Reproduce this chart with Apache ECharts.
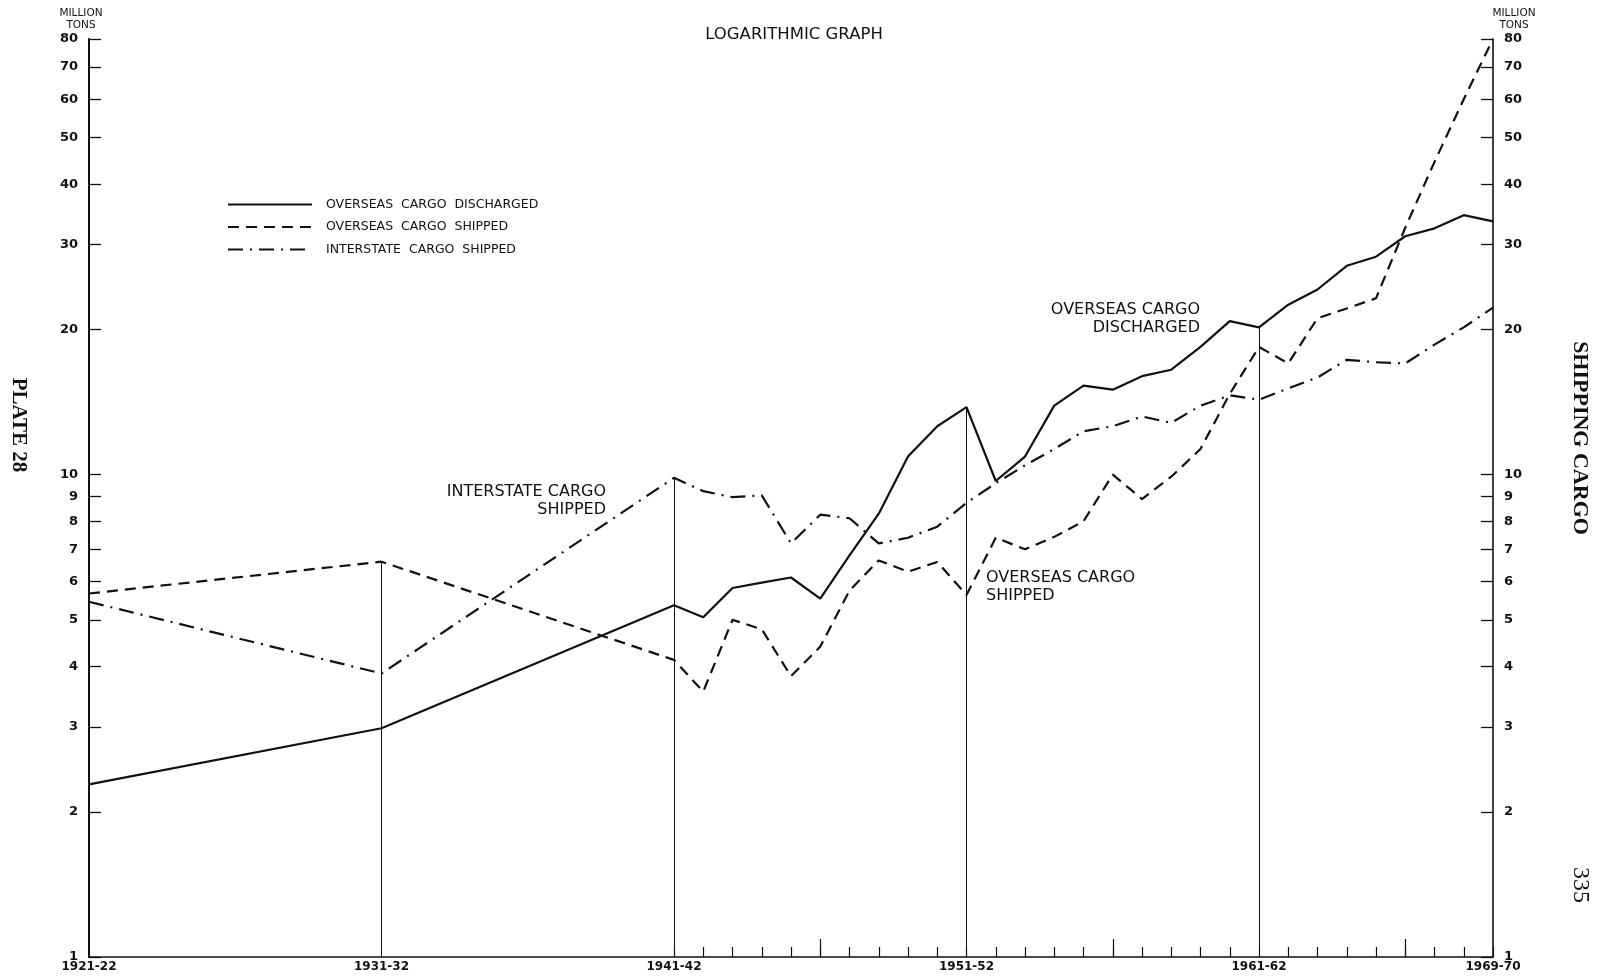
<!DOCTYPE html>
<html>
<head>
<meta charset="utf-8">
<script src="https://cdn.jsdelivr.net/npm/echarts@6/dist/echarts.min.js"></script>
<style>
  html, body { margin: 0; padding: 0; background: #ffffff; }
  #chart { width: 1607px; height: 980px; }
</style>
</head>
<body>
<div id="chart"></div>
<script>
// Financial years (start year of each year, e.g. 1921 = 1921-22)
const years = [1921, 1931, 1941, 1942, 1943, 1944, 1945, 1946, 1947, 1948, 1949, 1950,
  1951, 1952, 1953, 1954, 1955, 1956, 1957, 1958, 1959, 1960,
  1961, 1962, 1963, 1964, 1965, 1966, 1967, 1968, 1969];

// Million tons
const overseasDischarged = [2.28, 2.98, 5.36, 5.06, 5.82, 5.97, 6.12, 5.53, 6.8, 8.3, 10.9, 12.6,
  13.8, 9.7, 10.9, 13.9, 15.3, 15.0, 16.0, 16.5, 18.4, 20.8,
  20.2, 22.5, 24.2, 27.1, 28.3, 31.2, 32.4, 34.5, 33.5];
const overseasShipped = [5.67, 6.6, 4.13, 3.55, 5.0, 4.78, 3.82, 4.4, 5.75, 6.64, 6.29, 6.59,
  5.63, 7.4, 7.0, 7.43, 8.0, 10.0, 8.9, 9.9, 11.3, 14.7,
  18.4, 17.0, 21.1, 22.1, 23.2, 32.5, 44.5, 60, 80];
const interstateShipped = [5.45, 3.87, 9.85, 9.24, 8.98, 9.06, 7.2, 8.26, 8.12, 7.2, 7.4, 7.8,
  8.74, 9.6, 10.45, 11.3, 12.3, 12.6, 13.2, 12.8, 13.9, 14.6,
  14.3, 15.1, 15.9, 17.3, 17.1, 17.0, 18.6, 20.2, 22.2];

const seriesNames = ['OVERSEAS  CARGO  DISCHARGED', 'OVERSEAS  CARGO  SHIPPED', 'INTERSTATE  CARGO  SHIPPED'];

// Axis ticks
const valueTicks = [1, 2, 3, 4, 5, 6, 7, 8, 9, 10, 20, 30, 40, 50, 60, 70, 80];
const yearLabels = [1921, 1931, 1941, 1951, 1961, 1969];
const annualTicks = [1941, 1942, 1943, 1944, 1945, 1946, 1947, 1948, 1949, 1950, 1951, 1952, 1953,
  1954, 1955, 1956, 1957, 1958, 1959, 1960, 1961, 1962, 1963, 1964, 1965, 1966, 1967, 1968, 1969];
const midDecadeTicks = [1946, 1956, 1966];
const guideYears = [1931, 1941, 1951, 1961];

const INK = '#111111';
const FONT = '"DejaVu Sans", "Liberation Sans", sans-serif';

const pairs = (vals) => years.map((y, i) => [y, vals[i]]);

// Vertical guide lines rise from the base to the highest series at that year
const guideLines = guideYears.map((y) => {
  const i = years.indexOf(y);
  const top = Math.max(overseasDischarged[i], overseasShipped[i], interstateShipped[i]);
  return [{ coord: [y, 1] }, { coord: [y, top] }];
});

const yearFormatter = (v) => {
  const y = Math.round(v);
  return y + '-' + String((y + 1) % 100).padStart(2, '0');
};

const valueAxis = (position) => ({
  type: 'log',
  logBase: 10,
  min: 1,
  max: 80,
  position: position,
  axisLine: { show: true, lineStyle: { color: INK, width: position === 'left' ? 2 : 1.6 } },
  axisTick: { show: true, inside: true, length: 12, customValues: valueTicks,
    lineStyle: { color: INK, width: 1.3 } },
  axisLabel: { show: true, customValues: valueTicks, color: INK, fontFamily: FONT,
    fontSize: 13, fontWeight: 'bold', margin: 11, hideOverlap: false },
  minorTick: { show: false },
  splitLine: { show: false }
});

const lineSeries = (name, data, dash) => ({
  name: name,
  type: 'line',
  data: data,
  symbol: 'none',
  showSymbol: false,
  smooth: false,
  lineStyle: { color: INK, width: 2.2, type: dash },
  itemStyle: { color: INK },
  emphasis: { disabled: true },
  z: 3
});

const chart = echarts.init(document.getElementById('chart'), null, { renderer: 'canvas' });

const main = lineSeries(seriesNames[0], pairs(overseasDischarged), 'solid');
main.markLine = {
  silent: true,
  symbol: ['none', 'none'],
  label: { show: false },
  lineStyle: { color: INK, width: 1, type: 'solid' },
  data: guideLines,
  animation: false
};

const unitLabel = (x) => ({
  type: 'text', x: x, y: 7,
  style: { text: 'MILLION\nTONS', fill: INK, font: '10.5px ' + FONT, textAlign: 'center', lineHeight: 12 }
});

chart.setOption({
  animation: false,
  backgroundColor: '#ffffff',
  grid: { left: 89, right: 114, top: 39, bottom: 23, containLabel: false },
  legend: {
    show: true,
    orient: 'vertical',
    left: 227,
    top: 198,
    padding: 0,
    itemWidth: 84,
    itemHeight: 16,
    itemGap: 9.5,
    selectedMode: false,
    itemStyle: { opacity: 0 },
    textStyle: { color: INK, fontFamily: FONT, fontSize: 12.5, padding: [0, 0, 0, 9] },
    data: seriesNames
  },
  xAxis: [
    {
      type: 'value',
      min: 1921,
      max: 1969,
      position: 'bottom',
      axisLine: { show: true, lineStyle: { color: INK, width: 1.6 } },
      axisTick: { show: true, inside: true, length: 10, customValues: annualTicks,
        lineStyle: { color: INK, width: 1.2 } },
      axisLabel: { show: true, customValues: yearLabels, formatter: yearFormatter,
        color: INK, fontFamily: FONT, fontSize: 12, fontWeight: 'bold', margin: 4, hideOverlap: false },
      splitLine: { show: false }
    },
    {
      type: 'value',
      min: 1921,
      max: 1969,
      position: 'bottom',
      axisLine: { show: false },
      axisTick: { show: true, inside: true, length: 18, customValues: midDecadeTicks,
        lineStyle: { color: INK, width: 1.2 } },
      axisLabel: { show: false },
      splitLine: { show: false }
    }
  ],
  yAxis: [valueAxis('left'), valueAxis('right')],
  series: [
    main,
    lineSeries(seriesNames[1], pairs(overseasShipped), [11, 7]),
    lineSeries(seriesNames[2], pairs(interstateShipped), [15, 7, 2, 7])
  ],
  graphic: [
    unitLabel(81),
    unitLabel(1514),
    { type: 'text', x: 794, y: 26, style: { text: 'LOGARITHMIC GRAPH', fill: INK,
      font: '16.5px ' + FONT, textAlign: 'center' } },
    { type: 'text', x: 606, y: 483, style: { text: 'INTERSTATE CARGO\nSHIPPED', fill: INK,
      font: '16px ' + FONT, align: 'right', textAlign: 'right', lineHeight: 18 } },
    { type: 'text', x: 1200, y: 301, style: { text: 'OVERSEAS CARGO\nDISCHARGED', fill: INK,
      font: '16px ' + FONT, align: 'right', textAlign: 'right', lineHeight: 18 } },
    { type: 'text', x: 986, y: 569, style: { text: 'OVERSEAS CARGO\nSHIPPED', fill: INK,
      font: '16px ' + FONT, align: 'left', textAlign: 'left', lineHeight: 18 } },
    { type: 'text', x: 18, y: 425, rotation: -Math.PI / 2, style: { text: 'PLATE 28', fill: INK,
      font: 'bold 21px "Liberation Serif", serif', textAlign: 'center', textVerticalAlign: 'middle' } },
    { type: 'text', x: 1580, y: 438, rotation: -Math.PI / 2, style: { text: 'SHIPPING CARGO', fill: INK,
      font: 'bold 22px "Liberation Serif", serif', textAlign: 'center', textVerticalAlign: 'middle' } },
    { type: 'text', x: 1580, y: 885, rotation: -Math.PI / 2, style: { text: '335', fill: INK,
      font: '24px "Liberation Serif", serif', textAlign: 'center', textVerticalAlign: 'middle' } }
  ]
});
</script>
</body>
</html>
